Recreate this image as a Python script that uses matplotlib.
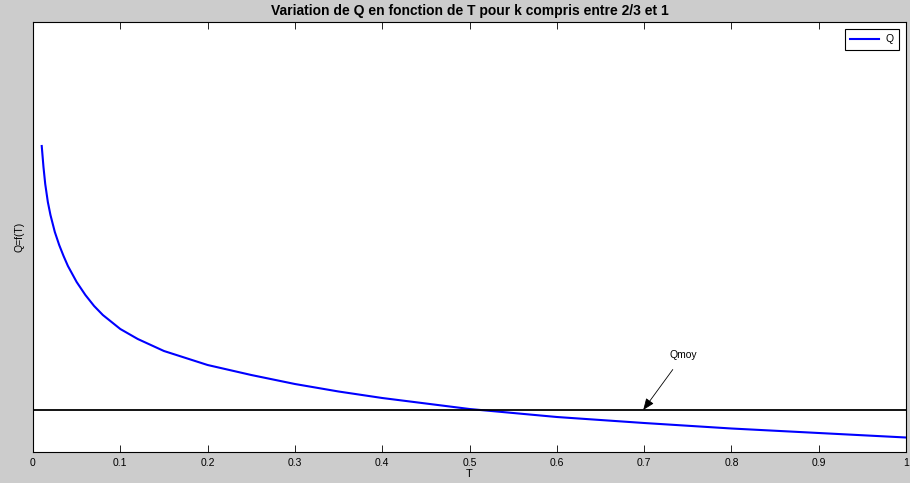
import matplotlib
matplotlib.use("Agg")
import matplotlib.pyplot as plt

# Values (Q in arbitrary units)
T = [0.01, 0.012, 0.014, 0.017, 0.02, 0.025, 0.03, 0.035, 0.04, 0.05, 0.06,
     0.07, 0.08, 0.1, 0.12, 0.15, 0.2, 0.25, 0.3, 0.35, 0.4, 0.5, 0.6,
     0.7, 0.8, 0.9, 1.0]
Q = [3.06, 2.85, 2.68, 2.50, 2.37, 2.20, 2.07, 1.96, 1.86, 1.70, 1.57,
     1.46, 1.37, 1.23, 1.13, 1.01, 0.87, 0.77, 0.68, 0.605, 0.54, 0.43, 0.35,
     0.29, 0.235, 0.19, 0.145]
Qmoy = 0.42
xticks = [0, 0.1, 0.2, 0.3, 0.4, 0.5, 0.6, 0.7, 0.8, 0.9, 1]
xtick_labels = ["0", "0.1", "0.2", "0.3", "0.4", "0.5", "0.6", "0.7", "0.8", "0.9", "1"]

plt.rcParams['font.family'] = ['Liberation Sans', 'DejaVu Sans']

fig = plt.figure(figsize=(9.1, 4.83), dpi=100, facecolor="#cccccc")
ax = fig.add_axes([33 / 910, 31 / 483, 873 / 910, 430 / 483])
ax.set_facecolor("white")

ax.plot(T, Q, color="#0000ff", lw=1.5, label="Q")
ax.axhline(Qmoy, color="black", lw=1.3)

ax.annotate("Qmoy", xy=(0.699, Qmoy), xytext=(0.745, 0.97),
            fontsize=7.5, ha="center", va="center",
            arrowprops=dict(arrowstyle="-|>,head_length=0.5,head_width=0.2",
                            color="black", lw=0.6,
                            mutation_scale=14, shrinkA=6, shrinkB=0))

ax.set_xlim(0, 1)
ax.set_ylim(0, 4.3)
ax.set_xticks(xticks)
ax.set_xticklabels(xtick_labels, fontsize=7.5)
ax.set_yticks([])
ax.tick_params(axis="x", direction="in", top=True, length=5, width=0.6, pad=4)
for s in ax.spines.values():
    s.set_linewidth(0.8)

ax.set_xlabel("T", fontsize=8, labelpad=1)
ax.set_ylabel("Q=f(T)", fontsize=7.5, labelpad=6)
ax.set_title("Variation de Q en fonction de T pour k compris entre 2/3 et 1",
             fontsize=10, fontweight="bold", pad=5)

leg = ax.legend(loc="upper right", fontsize=7.5, fancybox=False,
                edgecolor="black", framealpha=1, handlelength=2.8,
                borderaxespad=0.7, handletextpad=0.6, borderpad=0.5)
leg.get_frame().set_linewidth(0.8)

fig.savefig("out.png", dpi=100, facecolor=fig.get_facecolor())
